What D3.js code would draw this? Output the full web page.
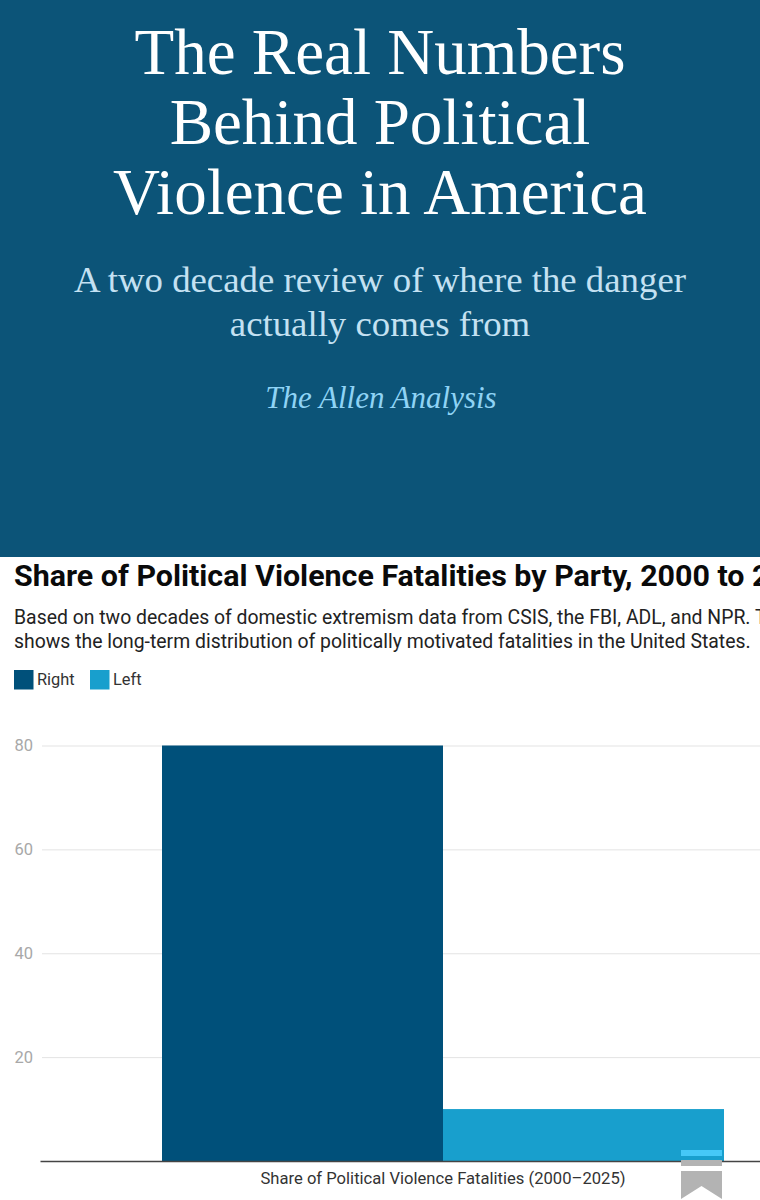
<!DOCTYPE html>
<html>
<head>
   <meta charset="UTF-8">
   <title>The Real Numbers Behind Political Violence in America</title>
   <style>
       body { margin: 0; overflow: hidden; background: white; }
       svg { display: block; }
       .serif { font-family: "Liberation Serif", serif; text-anchor: middle; }
       .sans { font-family: Roboto, sans-serif; }
   </style>
   <script src="https://cdnjs.cloudflare.com/ajax/libs/d3/7.8.5/d3.min.js"></script>
</head>
<body>
   <div id="chart"></div>
   <script>
       const headline = ["The Real Numbers", "Behind Political", "Violence in America"];
       const deck = ["A two decade review of where the danger", "actually comes from"];
       const byline = "The Allen Analysis";
       // the picture is cropped at its right edge, only the visible part is kept
       const chartTitle = "Share of Political Violence Fatalities by Party, 2000 to 2";
       const chartNote = [
           "Based on two decades of domestic extremism data from CSIS, the FBI, ADL, and NPR. T",
           "shows the long-term distribution of politically motivated fatalities in the United States."
       ];
       const series = ["Right", "Left"];
       const values = [80, 10];
       const colors = ["#00507a", "#189fcd"];
       const yTicks = [20, 40, 60, 80];
       const xLabel = "Share of Political Violence Fatalities (2000–2025)";

       const width = 760;
       const height = 1200;

       const svg = d3.select("#chart")
           .append("svg")
           .attr("width", width)
           .attr("height", height);

       // banner
       svg.append("rect")
           .attr("width", width)
           .attr("height", 557)
           .attr("fill", "#0c5478");

       svg.selectAll(".headline")
           .data(headline)
           .enter().append("text")
           .attr("class", "headline serif")
           .attr("x", 380)
           .attr("y", (d, i) => 74 + i * 70)
           .attr("font-size", 65)
           .attr("fill", "white")
           .text(d => d);

       svg.selectAll(".deck")
           .data(deck)
           .enter().append("text")
           .attr("class", "deck serif")
           .attr("x", 380)
           .attr("y", (d, i) => 292 + i * 44)
           .attr("font-size", 36.8)
           .attr("fill", "#c4e1f2")
           .text(d => d);

       svg.append("text")
           .attr("class", "serif")
           .attr("x", 381)
           .attr("y", 408)
           .attr("font-size", 31)
           .attr("font-style", "italic")
           .attr("fill", "#8fd3f5")
           .text(byline);

       // chart heading
       svg.append("text")
           .attr("class", "sans")
           .attr("x", 14)
           .attr("y", 586)
           .attr("font-size", 30.4)
           .attr("font-weight", 700)
           .attr("fill", "#0a0a0a")
           .text(chartTitle);

       svg.selectAll(".note")
           .data(chartNote)
           .enter().append("text")
           .attr("class", "note sans")
           .attr("x", 14)
           .attr("y", (d, i) => 624 + i * 24)
           .attr("font-size", 19.4)
           .attr("fill", "#222")
           .text(d => d);

       // legend
       const legend = svg.selectAll(".legend")
           .data(series)
           .enter().append("g")
           .attr("class", "legend")
           .attr("transform", (d, i) => `translate(${i === 0 ? 14 : 90},670)`);
       legend.append("rect")
           .attr("width", 19.5)
           .attr("height", 19.5)
           .attr("fill", (d, i) => colors[i]);
       legend.append("text")
           .attr("class", "sans")
           .attr("x", 23)
           .attr("y", 15)
           .attr("font-size", 16.4)
           .attr("fill", "#333")
           .text(d => d);

       // scales
       const x = d3.scaleBand().domain(series).range([162, 724]);
       const y = d3.scaleLinear().domain([0, 80]).range([1161, 745.5]);

       const yAxis = svg.append("g")
           .attr("transform", "translate(42,0)")
           .call(d3.axisLeft(y).tickValues(yTicks).tickSize(-(width - 42)).tickPadding(9));
       yAxis.select(".domain").remove();
       yAxis.selectAll("line").attr("stroke", "#e3e3e3");
       yAxis.selectAll("text")
           .attr("class", "sans")
           .attr("font-size", 16.5)
           .attr("fill", "#a8a8a8");

       // bars
       svg.selectAll(".bar")
           .data(values)
           .enter().append("rect")
           .attr("class", "bar")
           .attr("x", (d, i) => x(series[i]))
           .attr("y", d => y(d))
           .attr("width", x.bandwidth())
           .attr("height", d => y(0) - y(d))
           .attr("fill", (d, i) => colors[i]);

       // baseline and its label
       svg.append("g")
           .attr("transform", `translate(0,${y(0)})`)
           .call(d3.axisBottom(d3.scaleLinear().domain([40, 760]).range([40, 760])).tickValues([]).tickSize(0))
           .select(".domain")
           .attr("stroke", "#444")
           .attr("stroke-width", 1.6);

       svg.append("text")
           .attr("class", "sans")
           .attr("x", 443)
           .attr("y", 1184)
           .attr("text-anchor", "middle")
           .attr("font-size", 16.6)
           .attr("fill", "#333")
           .text(xLabel);

       // bookmark icon sitting over the corner of the chart
       const icon = svg.append("g").attr("transform", "translate(681,1150)");
       icon.append("rect").attr("y", 0).attr("width", 41).attr("height", 6).attr("fill", "#45c8f7");
       icon.append("rect").attr("y", 10).attr("width", 41).attr("height", 6).attr("fill", "#b3b3b3");
       icon.append("path").attr("d", "M0 21H41V49L20.5 36L0 49Z").attr("fill", "#b3b3b3");
   </script>
</body>
</html>
